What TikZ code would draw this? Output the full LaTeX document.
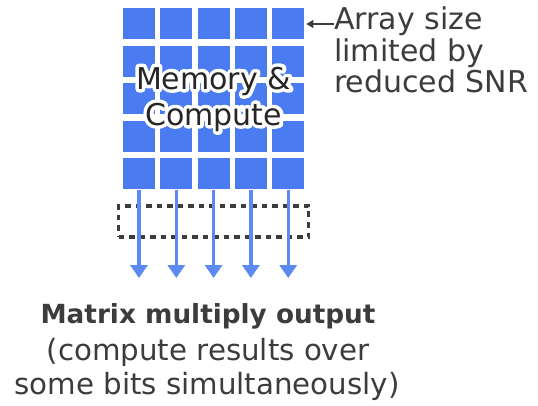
\documentclass[tikz,border=0pt]{standalone}
\usepackage{fontspec}
\setmainfont{DejaVu Sans}
\usetikzlibrary{arrows.meta,calc}
\definecolor{cellblue}{HTML}{4A7BF0}
\definecolor{arrowblue}{HTML}{5B8AF2}
\definecolor{inkgray}{HTML}{3C3C3C}
% text drawn as a thick white outline, used as a halo behind a label
\newcommand{\halotext}[1]{{\special{pdf:literal 1 1 1 RG 1 1 1 rg 7 w 1 j 1 J 2 Tr}#1\special{pdf:literal 0 Tr}}}
\tikzset{
  cell/.style={fill=cellblue, draw=none, minimum width=32pt, minimum height=31pt, inner sep=0pt},
  outarrow/.style={arrowblue, line width=3.4pt, -{Triangle[length=13pt, width=17pt]}},
  bitbox/.style={draw=inkgray, line width=3.4pt, dash pattern=on 5.5pt off 5pt},
  label/.style={text=inkgray, inner sep=0pt, align=center},
  bigfont/.style={font=\fontsize{30}{36}\selectfont},
}
\begin{document}
\begin{tikzpicture}[x=1pt, y=-1pt]
  \useasboundingbox (0,0) rectangle (538,406);
  % 5x5 array of memory/compute cells
  \foreach \c in {0,...,4} {
    \foreach \r in {0,...,4} {
      \node[cell] (c\c\r) at ({139+37.3*\c}, {24+37.5*\r}) {};
    }
  }
  % dashed box marking the bits read out together
  \node[bitbox, minimum width=190pt, minimum height=31pt, inner sep=0pt] (bits) at (213.5,221.5) {};
  % column outputs
  \foreach \c in {0,...,4} {
    \coordinate (o\c) at ({139+37.3*\c}, 278);
    \draw[outarrow] (c\c4.south) -- (o\c);
  }
  % centre label over a white halo
  \node[inner sep=0pt, align=center, bigfont] (halo) at (213.5,99)
    {\halotext{Memory \&}\\\halotext{Compute}};
  \node[label, text=black!85, bigfont] (mc) at (213.5,99) {Memory \&\\Compute};
  % side note
  \node[label, anchor=north west, align=left, font=\fontsize{30}{31.5}\selectfont] (note) at (334,7) {Array size\\limited by\\reduced SNR};
  \coordinate (notetail) at (334,24);
  \coordinate (notetip) at ($(c44.east |- notetail)+(2,0)$);
  \draw[inkgray, line width=1.6pt, -{Triangle[length=7pt, width=8pt]}] (notetail) -- (notetip);
  % caption
  \node[label, font=\bfseries\fontsize{26.3}{30}\selectfont, anchor=base] (cap) at (208,323) {Matrix multiply output};
  \node[label, font=\fontsize{29.3}{33.5}\selectfont, anchor=base] (sub) at (208,360) {(compute results over};
  \node[label, font=\fontsize{29.3}{33.5}\selectfont, anchor=base] (sub2) at (207,394) {some bits simultaneously)};
\end{tikzpicture}
\end{document}
